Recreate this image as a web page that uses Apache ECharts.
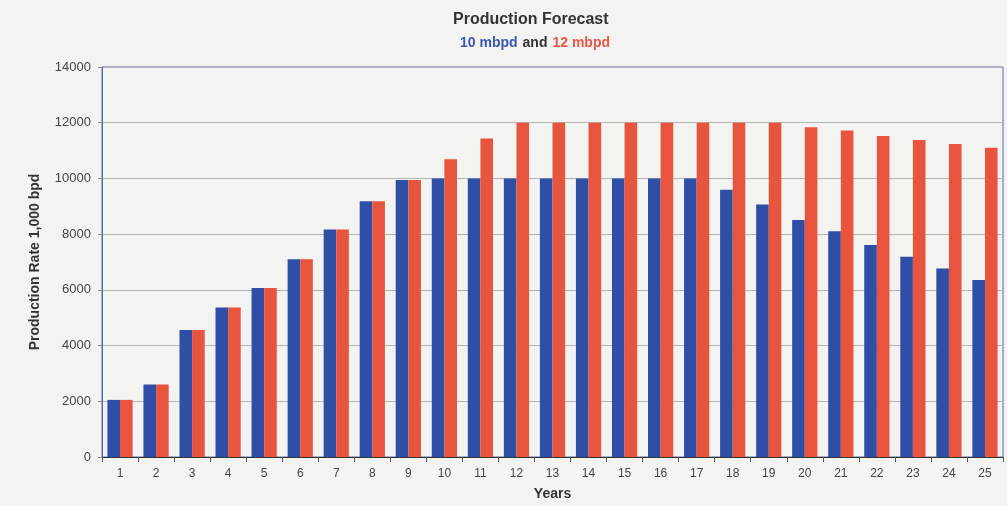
<!DOCTYPE html>
<html>
<head>
<meta charset="utf-8">
<script src="https://cdn.jsdelivr.net/npm/echarts@6/dist/echarts.min.js"></script>
<style>
  html, body { margin: 0; padding: 0; background: #f3f3f1; }
  #chart { width: 1007px; height: 506px; }
</style>
</head>
<body>
<div id="chart"></div>
<script>
// years on the x axis
const years = ["1","2","3","4","5","6","7","8","9","10","11","12","13","14","15","16","17","18","19","20","21","22","23","24","25"];
// 10 mbpd case
const rate10 = [2050,2600,4560,5370,6070,7100,8170,9180,9940,10000,10000,10000,10000,10000,10000,10000,10000,9590,9060,8510,8100,7610,7190,6770,6350];
// 12 mbpd case
const rate12 = [2050,2600,4560,5370,6070,7100,8170,9180,9940,10690,11430,12000,12000,12000,12000,12000,12000,12000,12000,11840,11720,11520,11380,11240,11100];

const chart = echarts.init(document.getElementById("chart"));
chart.setOption({
  backgroundColor: "#f3f3f1",
  animation: false,
  textStyle: { fontFamily: "Liberation Sans, Arial, sans-serif" },
  title: [
    {
      text: "Production Forecast",
      left: 448,
      top: 7,
      textStyle: { fontSize: 16, fontWeight: "bold", color: "#333" }
    },
    {
      text: "{b|10 mbpd} {k|and} {r|12 mbpd}",
      left: 455,
      top: 29,
      textStyle: {
        rich: {
          b: { fontSize: 14, fontWeight: "bold", color: "#3a58b0" },
          k: { fontSize: 14, fontWeight: "bold", color: "#333" },
          r: { fontSize: 14, fontWeight: "bold", color: "#e8574a" }
        }
      }
    }
  ],
  grid: {
    left: 102,
    right: 4,
    top: 67,
    bottom: 46,
    show: true,
    borderColor: "#5c6aa6",
    borderWidth: 1
  },
  xAxis: {
    type: "category",
    data: years,
    name: "Years",
    nameLocation: "middle",
    nameGap: 30,
    nameTextStyle: { fontSize: 14, fontWeight: "bold", color: "#333" },
    axisLine: { lineStyle: { color: "#333" } },
    axisTick: { show: true, lineStyle: { color: "#555" } },
    axisLabel: { fontSize: 12, color: "#444", margin: 11 }
  },
  yAxis: {
    type: "value",
    min: 0,
    max: 14000,
    interval: 2000,
    name: "Production Rate 1,000 bpd",
    nameLocation: "middle",
    nameGap: 60,
    nameTextStyle: { fontSize: 14, fontWeight: "bold", color: "#333" },
    axisLine: { show: true, lineStyle: { color: "#5c6aa6" } },
    axisTick: { show: true, length: 4, lineStyle: { color: "#888" } },
    axisLabel: { fontSize: 13, color: "#444", margin: 11, formatter: (v) => String(v) },
    splitLine: { lineStyle: { color: "#b4b4b4" } }
  },
  series: [
    {
      name: "10 mbpd",
      type: "bar",
      data: rate10,
      barGap: "0%",
      barCategoryGap: "30%",
      itemStyle: { color: "#2f4fa6" }
    },
    {
      name: "12 mbpd",
      type: "bar",
      data: rate12,
      itemStyle: { color: "#e8553f" }
    }
  ]
});
</script>
</body>
</html>
